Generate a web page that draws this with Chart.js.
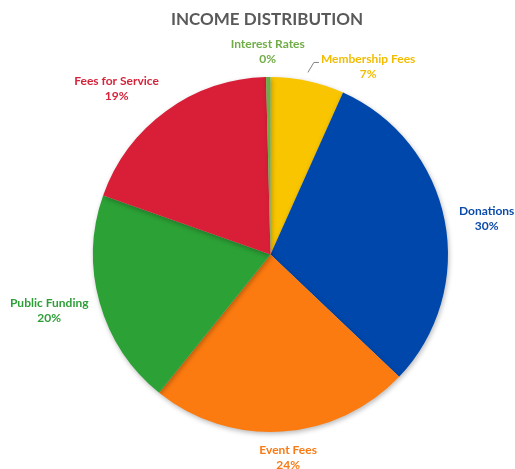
<!DOCTYPE html>
<html>
<head>
<meta charset="utf-8">
<script src="https://cdn.jsdelivr.net/npm/chart.js@4.4.1/dist/chart.umd.min.js"></script>
<style>
html,body{margin:0;padding:0;background:#fff;}
#wrap{width:515px;height:469px;}
</style>
</head>
<body>
<div id="wrap"><canvas id="c" width="515" height="469"></canvas></div>
<script>
// ---- data ----
const titleText = 'INCOME DISTRIBUTION';
const categories = ['Membership Fees', 'Donations', 'Event Fees', 'Public Funding', 'Fees for Service', 'Interest Rates'];
const values = [6.7, 30.4, 23.7, 19.6, 19.2, 0.4];
const sliceColors = ['#F8C500', '#0047AB', '#FC7B10', '#2CA136', '#D91F37', '#6CAE46'];
const labelColors = ['#F2BD00', '#0B4BAA', '#FA7A14', '#2E9E38', '#D7233A', '#70AD47'];

// ---- styling config (label nudges in px relative to geometric anchor) ----
const labelNudge = [[49, 8], [7, 3], [3.5, 3], [-5, 1], [-20, -4], [0, -2]];
const leader = [true, false, false, false, false, false];
const LABEL_FONT = 'bold 12px Lato';
const TITLE_FONT = 'bold 17px Lato';

const total = values.reduce((a, b) => a + b, 0);
const percentLabels = values.map(v => Math.round(v / total * 100) + '%');

const shadowPlugin = {
  id: 'shadow',
  beforeDatasetsDraw(chart) {
    const ctx = chart.ctx;
    ctx.save();
    ctx.shadowColor = 'rgba(0,0,0,0.28)';
    ctx.shadowBlur = 5;
    ctx.shadowOffsetX = 1;
    ctx.shadowOffsetY = 2;
  },
  afterDatasetsDraw(chart) {
    chart.ctx.restore();
  }
};

const labelPlugin = {
  id: 'labels',
  afterDraw(chart) {
    const ctx = chart.ctx;
    const meta = chart.getDatasetMeta(0);
    ctx.save();
    // title
    ctx.font = TITLE_FONT;
    ctx.fillStyle = '#595959';
    ctx.textAlign = 'center';
    ctx.textBaseline = 'middle';
    ctx.fillText(titleText, 267, 20);

    ctx.font = LABEL_FONT;
    meta.data.forEach((arc, i) => {
      const p = arc.getProps(['x', 'y', 'startAngle', 'endAngle', 'outerRadius'], true);
      const mid = (p.startAngle + p.endAngle) / 2;
      const dx = Math.cos(mid), dy = Math.sin(mid);
      const w = Math.max(ctx.measureText(categories[i]).width, ctx.measureText(percentLabels[i]).width);
      const h = 30;
      const r = p.outerRadius + 8;
      const cx = p.x + r * dx + (w / 2) * dx + labelNudge[i][0];
      const cy = p.y + r * dy + (h / 2) * dy + labelNudge[i][1];
      ctx.fillStyle = labelColors[i];
      ctx.textAlign = 'center';
      ctx.textBaseline = 'middle';
      ctx.fillText(categories[i], cx, cy - 7.5);
      ctx.fillText(percentLabels[i], cx, cy + 7.5);
      if (leader[i]) {
        const left = cx - ctx.measureText(categories[i]).width / 2;
        ctx.strokeStyle = '#808080';
        ctx.lineWidth = 1;
        ctx.beginPath();
        ctx.moveTo(left - 2, cy - 4);
        ctx.lineTo(left - 7, cy - 4);
        ctx.lineTo(left - 13, cy + 6);
        ctx.stroke();
      }
    });
    ctx.restore();
  }
};

function build() {
  new Chart(document.getElementById('c'), {
    type: 'pie',
    data: {
      labels: categories,
      datasets: [{
        data: values,
        backgroundColor: sliceColors,
        borderWidth: 0
      }]
    },
    options: {
      responsive: false,
      animation: false,
      devicePixelRatio: 1,
      rotation: 0,
      layout: { padding: { left: 93, right: 67, top: 77, bottom: 37 } },
      plugins: {
        legend: { display: false },
        tooltip: { enabled: false },
        title: { display: false }
      }
    },
    plugins: [shadowPlugin, labelPlugin]
  });
}

Promise.all([
  document.fonts.load(LABEL_FONT),
  document.fonts.load(TITLE_FONT)
]).then(build, build);
</script>
</body>
</html>
